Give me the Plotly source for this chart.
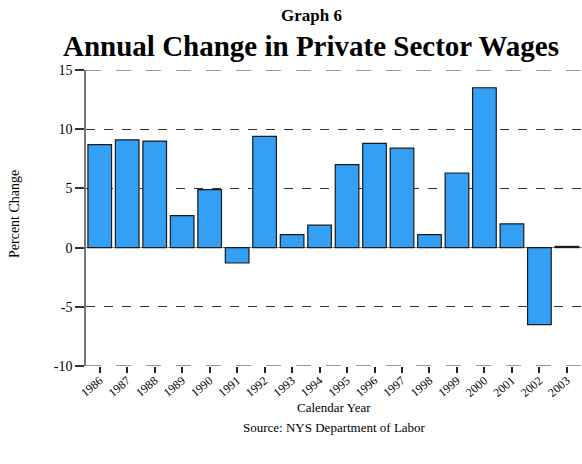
import plotly.graph_objects as go

years = ["1986", "1987", "1988", "1989", "1990", "1991", "1992", "1993", "1994",
         "1995", "1996", "1997", "1998", "1999", "2000", "2001", "2002", "2003"]
pct_change = [8.7, 9.1, 9.0, 2.7, 4.9, -1.3, 9.4, 1.1, 1.9,
              7.0, 8.8, 8.4, 1.1, 6.3, 13.5, 2.0, -6.5, 0.1]
y_ticks = [-10, -5, 0, 5, 10, 15]

SERIF = "Liberation Serif, Times New Roman, serif"

W, H = 582, 464
ML, MR, MT, MB = 86, 0, 70, 98
PW = W - ML - MR
PH = H - MT - MB


def label(text, px, py, size, angle=0):
    """Text placed by page pixel position, converted to paper coordinates."""
    return dict(text=text, x=(px - ML) / PW, y=1 - (py - MT) / PH,
                xref="paper", yref="paper", xanchor="center", yanchor="middle",
                showarrow=False, textangle=angle,
                font=dict(size=size, family=SERIF, color="black"))


fig = go.Figure(
    go.Bar(
        x=years,
        y=pct_change,
        marker=dict(color="#339ff5", line=dict(color="#1a1a1a", width=1.2)),
        width=0.86,
    )
)

fig.update_layout(
    width=W,
    height=H,
    margin=dict(l=ML, r=MR, t=MT, b=MB),
    paper_bgcolor="white",
    plot_bgcolor="white",
    showlegend=False,
    font=dict(family=SERIF, color="black"),
    annotations=[
        label("<b>Graph 6</b>", 311, 15, 17),
        label("<b>Annual Change in Private Sector Wages</b>", 311, 46, 29),
        label("Calendar Year", 334, 407, 13),
        label("Source: NYS Department of Labor", 334, 427, 13),
        label("Percent Change", 14, 214, 14, angle=-90),
    ],
)

# Dashed frame lines at the top and bottom of the value range
for yv in (y_ticks[0], y_ticks[-1]):
    fig.add_shape(type="line", xref="paper", yref="y", x0=0, x1=1, y0=yv, y1=yv,
                  line=dict(color="#333", width=1.2, dash="longdash"), layer="above")

fig.update_xaxes(
    type="category",
    range=[-0.5, 17.55],
    tickangle=-40,
    ticks="outside",
    ticklen=6,
    tickwidth=1.5,
    tickcolor="#222",
    tickfont=dict(size=12, family=SERIF),
    ticklabelstandoff=-4,
    showgrid=False,
    showline=False,
    zeroline=False,
)

fig.update_yaxes(
    range=[-10, 15],
    tickvals=y_ticks,
    ticktext=[str(v) for v in y_ticks],
    ticks="outside",
    ticklen=9,
    tickwidth=1.5,
    tickcolor="#333",
    tickfont=dict(size=14, family=SERIF),
    showgrid=True,
    gridcolor="#333",
    gridwidth=1,
    griddash="dash",
    zeroline=True,
    zerolinecolor="#777",
    zerolinewidth=1.2,
    showline=True,
    linecolor="#777",
    linewidth=1.5,
)

fig.write_html("out.html")
